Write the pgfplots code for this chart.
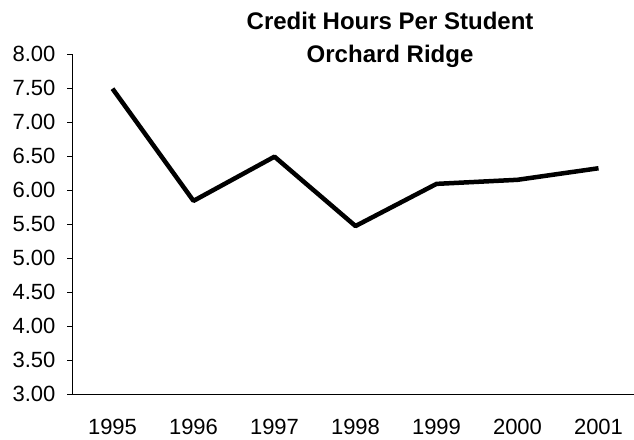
\documentclass[border=0pt]{standalone}
\usepackage{fontspec}
\setmainfont{Liberation Sans}
\usepackage{pgfplots}
\pgfplotsset{compat=1.18}
\begin{document}
\begin{tikzpicture}[x=1pt,y=1pt]
\useasboundingbox (0,0) rectangle (634,439);
\begin{axis}[
  at={(72pt,45pt)}, anchor=south west,
  scale only axis,
  width=567pt, height=340pt,
  xmin=-0.5, xmax=6.5,
  ymin=3, ymax=8,
  axis x line*=bottom, axis y line*=left,
  axis line style={line width=1pt, black},
  tick align=outside,
  tick style={black, line width=0.8pt},
  major tick length=5pt,
  ytick distance=0.5,
  xtick={0,1,2,3,4,5,6},
  xticklabels={1995,1996,1997,1998,1999,2000,2001},
  xtick style={draw=none},
  minor xtick={-0.5,0.5,1.5,2.5,3.5,4.5,5.5,6.5},
  minor x tick style={black, line width=0.8pt},
  minor tick length=5pt,
  /pgf/number format/assume math mode=true,
  yticklabel={\pgfmathprintnumber[fixed,fixed zerofill,precision=2]{\tick}},
  ticklabel style={font=\fontsize{22}{26}\selectfont},
  xticklabel style={yshift=-17pt},
  yticklabel style={xshift=-8pt},
  title={Credit Hours Per Student\\Orchard Ridge},
  title style={at={(0.561,1.025)}, anchor=center, align=center,
    font=\bfseries\fontsize{24}{33}\selectfont},
  clip=false,
]
\addplot[black, line width=4.5pt, line join=round] coordinates {
  (0,7.49) (1,5.84) (2,6.49) (3,5.47) (4,6.09) (5,6.15) (6,6.32)
};
\end{axis}
\end{tikzpicture}
\end{document}
